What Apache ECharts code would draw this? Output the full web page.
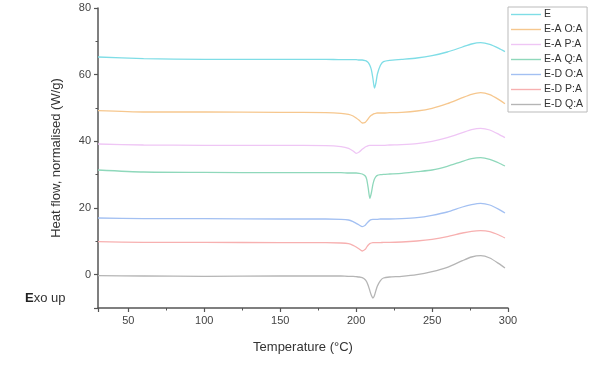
<!DOCTYPE html>
<html><head><meta charset="utf-8">
<script src="https://cdn.jsdelivr.net/npm/echarts@6/dist/echarts.min.js"></script>
<style>html,body{margin:0;padding:0;background:#fff}#c{width:600px;height:372px}</style>
</head><body><div id="c"></div>
<script>
const temps = [30, 60, 100, 150, 180, 190, 195, 198, 200, 202, 204, 206, 207, 208, 209, 210, 211, 212, 213, 214, 216, 218, 222, 230, 240, 250, 260, 270, 276, 282, 288, 294, 298];
const seriesNames = ['E', 'E-A O:A', 'E-A P:A', 'E-A Q:A', 'E-D O:A', 'E-D P:A', 'E-D Q:A'];
const valE   = [65.3, 64.8, 64.6, 64.6, 64.6, 64.5, 64.5, 64.5, 64.5, 64.4, 64.4, 64.2, 64.0, 63.6, 62.8, 61.5, 59.0, 56.0, 57.5, 60.2, 62.8, 63.9, 64.3, 64.6, 65.0, 65.7, 66.8, 68.3, 69.2, 69.6, 69.1, 67.9, 66.9];
const valEAO = [49.2, 48.8, 48.8, 48.7, 48.6, 48.4, 48.1, 47.6, 47.0, 46.3, 45.5, 45.7, 46.2, 46.8, 47.4, 47.8, 48.1, 48.3, 48.4, 48.5, 48.5, 48.5, 48.6, 48.7, 49.1, 49.9, 51.3, 53.1, 54.1, 54.6, 54.0, 52.5, 51.3];
const valEAP = [39.2, 38.9, 38.8, 38.8, 38.7, 38.4, 37.9, 37.1, 36.4, 36.8, 37.6, 38.3, 38.5, 38.7, 38.8, 38.8, 38.8, 38.8, 38.8, 38.8, 38.8, 38.8, 38.9, 39.0, 39.3, 40.0, 41.1, 42.6, 43.5, 43.9, 43.4, 42.1, 41.1];
const valEAQ = [31.4, 30.8, 30.7, 30.6, 30.6, 30.6, 30.5, 30.5, 30.5, 30.4, 30.2, 29.6, 28.5, 25.8, 22.9, 24.5, 27.0, 28.6, 29.4, 29.8, 30.0, 30.1, 30.2, 30.4, 30.9, 31.4, 32.5, 34.0, 34.8, 35.1, 34.6, 33.5, 32.6];
const valEDO = [17.0, 16.8, 16.8, 16.7, 16.7, 16.6, 16.4, 15.9, 15.4, 14.9, 14.4, 14.8, 15.4, 15.9, 16.3, 16.5, 16.6, 16.6, 16.6, 16.6, 16.7, 16.7, 16.7, 16.8, 17.1, 17.8, 18.8, 20.3, 21.0, 21.4, 20.9, 19.6, 18.5];
const valEDP = [9.9, 9.7, 9.7, 9.6, 9.6, 9.5, 9.3, 8.8, 8.3, 7.7, 7.1, 7.6, 8.3, 8.9, 9.3, 9.5, 9.6, 9.6, 9.6, 9.6, 9.6, 9.7, 9.7, 9.8, 10.1, 10.6, 11.4, 12.5, 13.0, 13.2, 12.9, 11.9, 11.0];
const valEDQ = [-0.3, -0.4, -0.5, -0.4, -0.4, -0.4, -0.5, -0.5, -0.6, -0.7, -0.9, -1.5, -2.2, -3.3, -4.8, -6.2, -7.0, -6.3, -4.8, -3.4, -1.8, -1.0, -0.7, -0.5, 0.0, 0.9, 2.2, 4.2, 5.3, 5.7, 5.0, 3.3, 2.0];
const allVals = [valE, valEAO, valEAP, valEAQ, valEDO, valEDP, valEDQ];
const colors = ['#7fdde6', '#f6c78e', '#efc6f5', '#8fd8bb', '#a3c0f2', '#f7b0b0', '#b5b5b5'];

const chart = echarts.init(document.getElementById('c'), null, {renderer: 'canvas'});
const font = 'Liberation Sans, Arial, sans-serif';
chart.setOption({
  animation: false,
  color: colors,
  grid: {left: 98, right: 92, top: 8, bottom: 64},
  legend: {
    orient: 'vertical', left: 508, top: 7,
    data: seriesNames,
    itemWidth: 30, itemHeight: 11, itemGap: 4,
    padding: [2, 4, 2, 3],
    borderColor: '#bbbbbb', borderWidth: 1, backgroundColor: '#fff',
    textStyle: {fontFamily: font, fontSize: 10.5, color: '#333', padding: [0, 0, 0, -2]},
    icon: 'path://M0,0 L30,0 L30,1.4 L0,1.4 Z'
  },
  xAxis: {
    type: 'value', min: 30, max: 300, splitNumber: 5,
    name: 'Temperature (°C)', nameLocation: 'middle', nameGap: 33,
    nameTextStyle: {fontFamily: font, fontSize: 13, color: '#333'},
    axisLine: {show: true, onZero: false, lineStyle: {color: '#555', width: 1.5}},
    axisTick: {show: true, length: 4, lineStyle: {color: '#555', width: 1.2}},
    minorTick: {show: true, splitNumber: 2, length: 2.5, lineStyle: {color: '#555', width: 1}},
    axisLabel: {showMinLabel: false, fontFamily: font, fontSize: 11, color: '#444', margin: 7},
    splitLine: {show: false}
  },
  yAxis: {
    type: 'value', min: -10, max: 80, splitNumber: 5,
    name: 'Heat flow, normalised (W/g)', nameLocation: 'middle', nameGap: 35,
    nameTextStyle: {fontFamily: font, fontSize: 13, color: '#333'},
    axisLine: {show: true, onZero: false, lineStyle: {color: '#555', width: 1.5}},
    axisTick: {show: true, length: 4, lineStyle: {color: '#555', width: 1.2}},
    minorTick: {show: true, splitNumber: 2, length: 2.5, lineStyle: {color: '#555', width: 1}},
    axisLabel: {showMinLabel: false, fontFamily: font, fontSize: 11, color: '#444', margin: 7},
    splitLine: {show: false}
  },
  graphic: [{
    type: 'text', left: 25, top: 292,
    style: {text: '{b|E}xo up', font: '13px ' + font, fill: '#333',
      rich: {b: {fontFamily: font, fontSize: 13, fontWeight: 'bold', fill: '#222'}}}
  }],
  series: seriesNames.map((n, i) => ({
    name: n, type: 'line', symbol: 'none', smooth: 0.2,
    lineStyle: {width: 1.3, color: colors[i]},
    data: temps.map((t, j) => [t, allVals[i][j]])
  }))
});
</script></body></html>
